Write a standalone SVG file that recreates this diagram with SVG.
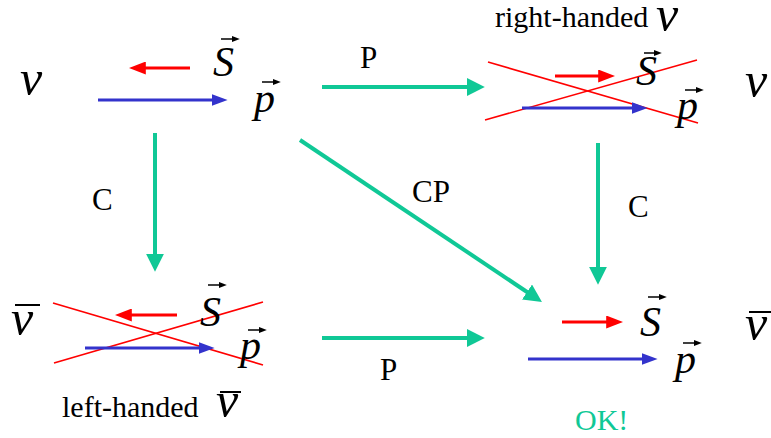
<svg xmlns="http://www.w3.org/2000/svg" width="771" height="438" viewBox="0 0 771 438" font-family="'Liberation Serif', 'Times New Roman', Tinos, 'DejaVu Serif', serif">
<style>
text{font-family:'Liberation Serif','Times New Roman',Tinos,'DejaVu Serif','Noto Serif',serif}
.nu{font-style:italic;font-size:50px;fill:#000}
.vec{font-style:italic;font-size:42px;fill:#000}
.lbl{font-size:31px;fill:#000}
.cap{font-size:30px;fill:#000}
.ok{font-size:30px;fill:#10c896}
.g{stroke:#10c896;stroke-width:4;fill:none;marker-end:url(#mg)}
.r{stroke:#ff0000;stroke-width:3;fill:none;marker-end:url(#mr)}
.b{stroke:#3333cc;stroke-width:3;fill:none;marker-end:url(#mb)}
.x{stroke:#ff0000;stroke-width:1.6;fill:none}
.va{stroke:#000;stroke-width:1.5;fill:none;marker-end:url(#mv)}
.bar{stroke:#000;stroke-width:2}
</style>
<defs>
<marker id="mg" viewBox="0 0 10 10" refX="4" refY="5" markerUnits="userSpaceOnUse" markerWidth="18" markerHeight="18" orient="auto" preserveAspectRatio="none"><path d="M0,0 L10,5 L0,10 z" fill="#10c896"/></marker>
<marker id="mr" viewBox="0 0 10 10" refX="4" refY="5" markerUnits="userSpaceOnUse" markerWidth="17" markerHeight="13" orient="auto" preserveAspectRatio="none"><path d="M0,0 L10,5 L0,10 z" fill="#ff0000"/></marker>
<marker id="mb" viewBox="0 0 10 10" refX="4" refY="5" markerUnits="userSpaceOnUse" markerWidth="16" markerHeight="12" orient="auto" preserveAspectRatio="none"><path d="M0,0 L10,5 L0,10 z" fill="#3333cc"/></marker>
<marker id="mv" viewBox="0 0 10 10" refX="4" refY="5" markerUnits="userSpaceOnUse" markerWidth="8" markerHeight="6" orient="auto" preserveAspectRatio="none"><path d="M0,0 L10,5 L0,10 z" fill="#000"/></marker>
</defs>

<g id="node-top-left">
<text class="nu" x="20" y="95">ν</text>
<line class="r" x1="190" y1="68" x2="139" y2="68"/>
<line class="b" x1="98" y1="100" x2="218" y2="100"/>
<text class="vec" x="213" y="76">S</text>
<line class="va" x1="221" y1="39" x2="235" y2="39"/>
<text class="vec" x="254" y="112">p</text>
<line class="va" x1="262" y1="82" x2="276" y2="82"/>
</g>

<g id="node-top-right">
<text class="cap" x="495" y="27">right-handed</text>
<text class="nu" x="656" y="31">ν</text>
<line class="x" x1="488" y1="62" x2="698" y2="123"/>
<line class="x" x1="485" y1="120" x2="697" y2="60"/>
<line class="r" x1="555" y1="76" x2="605" y2="76"/>
<line class="b" x1="522" y1="108" x2="638" y2="108"/>
<text class="vec" x="636" y="85">S</text>
<line class="va" x1="644" y1="53" x2="657" y2="53"/>
<text class="vec" x="677" y="119">p</text>
<line class="va" x1="685" y1="90" x2="699" y2="90"/>
<text class="nu" x="745" y="97">ν</text>
</g>

<g id="node-bottom-left">
<text class="nu" x="11" y="335">ν</text>
<line class="bar" x1="15" y1="305" x2="40" y2="305"/>
<line class="x" x1="53" y1="303" x2="263" y2="365"/>
<line class="x" x1="54" y1="363" x2="263" y2="302"/>
<line class="r" x1="177" y1="315" x2="125" y2="315"/>
<line class="b" x1="85" y1="348" x2="205" y2="348"/>
<text class="vec" x="200" y="326">S</text>
<line class="va" x1="208" y1="285" x2="222" y2="285"/>
<text class="vec" x="240" y="359">p</text>
<line class="va" x1="248" y1="330" x2="262" y2="330"/>
<text class="cap" x="62" y="417">left-handed</text>
<text class="nu" x="216" y="417">ν</text>
<line class="bar" x1="220" y1="392" x2="241" y2="392"/>
</g>

<g id="node-bottom-right">
<line class="r" x1="562" y1="322" x2="613" y2="322"/>
<line class="b" x1="528" y1="359" x2="648" y2="359"/>
<text class="vec" x="640" y="336">S</text>
<line class="va" x1="648" y1="297" x2="662" y2="297"/>
<text class="vec" x="675" y="373">p</text>
<line class="va" x1="683" y1="343" x2="697" y2="343"/>
<text class="nu" x="745" y="340">ν</text>
<line class="bar" x1="749" y1="312" x2="771" y2="312"/>
<text class="ok" x="575" y="430">OK!</text>
</g>

<g id="connectors">
<line class="g" x1="322" y1="87" x2="474" y2="87"/>
<text class="lbl" x="360" y="68">P</text>
<line class="g" x1="155" y1="133" x2="155" y2="261"/>
<text class="lbl" x="92" y="210">C</text>
<line class="g" x1="598" y1="143" x2="598" y2="274"/>
<text class="lbl" x="628" y="217">C</text>
<line class="g" x1="300" y1="140" x2="533" y2="296"/>
<text class="lbl" x="412" y="202">CP</text>
<line class="g" x1="322" y1="338" x2="474" y2="338"/>
<text class="lbl" x="380" y="380">P</text>
</g>
</svg>
